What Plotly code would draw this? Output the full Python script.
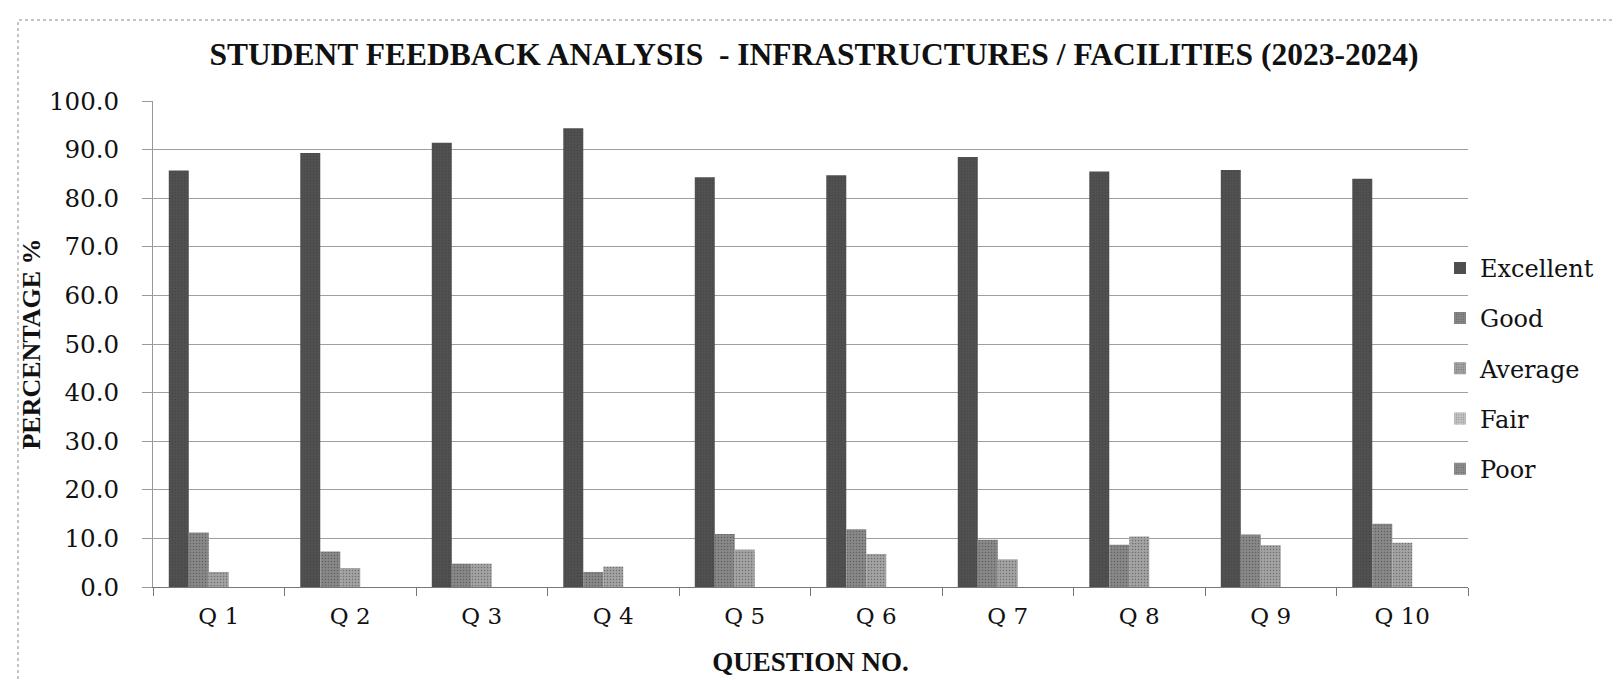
import plotly.graph_objects as go

questions = ["Q 1", "Q 2", "Q 3", "Q 4", "Q 5", "Q 6", "Q 7", "Q 8", "Q 9", "Q 10"]
excellent = [85.7, 89.3, 91.4, 94.4, 84.3, 84.7, 88.5, 85.5, 85.8, 84.0]
good = [11.2, 7.3, 4.8, 3.1, 10.9, 11.9, 9.7, 8.7, 10.8, 13.0]
average = [3.1, 3.9, 4.8, 4.2, 7.7, 6.8, 5.7, 10.4, 8.6, 9.1]
fair = [0.0, 0.0, 0.0, 0.0, 0.0, 0.0, 0.0, 0.0, 0.0, 0.0]
poor = [0.0, 0.0, 0.0, 0.0, 0.0, 0.0, 0.0, 0.0, 0.0, 0.0]
y_ticks = [0, 10, 20, 30, 40, 50, 60, 70, 80, 90, 100]

series = [
    ("Excellent", excellent, "#505050"),
    ("Good", good, "#888888"),
    ("Average", average, "#a3a3a3"),
    ("Fair", fair, "#c4c4c4"),
    ("Poor", poor, "#8e8e8e"),
]

title_font = "Liberation Serif, DejaVu Serif, serif"
label_font = "DejaVu Serif, Liberation Serif, serif"

W, H = 1621, 680
L, R, T, B = 145, 161, 93, 101
PW, PH = W - L - R, H - T - B

fig = go.Figure()
for name, vals, color in series:
    fig.add_trace(go.Bar(
        x=questions, y=vals, name=name, legendgroup=name,
        marker=dict(color=color, line=dict(width=0),
                    pattern=dict(shape=".", size=3, solidity=0.2, fgcolor="#3a3a3a", bgcolor=color)),
    ))

fig.update_layout(
    width=W, height=H,
    margin=dict(l=L, r=R, t=T, b=B, autoexpand=False),
    paper_bgcolor="white", plot_bgcolor="white",
    barmode="group", bargap=0.24, bargroupgap=0,
    font=dict(family=label_font, color="#111111", size=24),
    title=dict(text="<b>STUDENT FEEDBACK ANALYSIS  - INFRASTRUCTURES / FACILITIES (2023-2024)</b>",
               x=806 / W, xanchor="center", y=1 - 46 / H, yanchor="middle",
               font=dict(size=31.5, family=title_font), automargin=False),
    legend=dict(x=(1432 - L) / PW, xanchor="left", y=0.45, yanchor="middle",
                font=dict(size=24, family=label_font), tracegroupgap=16, bgcolor="rgba(0,0,0,0)"),
    xaxis=dict(
        title=dict(text="<b>QUESTION NO.</b>", font=dict(size=27, family=title_font), standoff=24),
        showline=True, linecolor="#777777", linewidth=1,
        ticks="outside", tickson="boundaries", ticklen=8, tickcolor="#777777",
        tickfont=dict(size=23, family=label_font), ticklabelstandoff=8,
        showgrid=False, automargin=False,
    ),
    yaxis=dict(
        title=dict(text="<b>PERCENTAGE %</b>", font=dict(size=26, family=title_font), standoff=0),
        range=[0, 100], tickvals=y_ticks, tickformat=".1f",
        showline=True, linecolor="#999999", linewidth=1,
        ticks="outside", ticklen=10, tickcolor="#999999", ticklabelstandoff=18,
        showgrid=True, gridcolor="#9f9f9f", gridwidth=1,
        tickfont=dict(size=24.5, family=label_font), zeroline=False, automargin=False,
    ),
)

fig.add_shape(type="rect", xref="paper", yref="paper",
              x0=(10 - L) / PW, x1=(1617 - L) / PW,
              y0=(PH + T - 678) / PH, y1=(PH + T - 12) / PH,
              line=dict(color="#888888", width=1, dash="dot"))

fig.write_html("out.html")
